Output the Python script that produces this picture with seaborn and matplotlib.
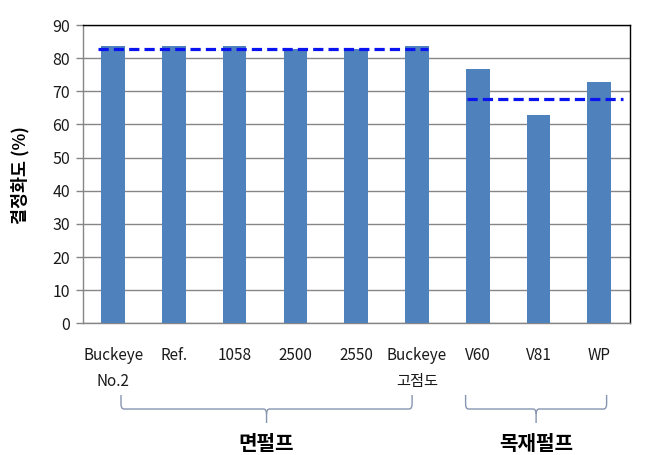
import matplotlib
matplotlib.use("Agg")
import matplotlib.pyplot as plt
import matplotlib.transforms as mtransforms
from matplotlib.path import Path
from matplotlib.patches import PathPatch
import seaborn as sns
import pandas as pd

# ---- data ----
categories = ["Buckeye No.2", "Ref.", "1058", "2500", "2550", "Buckeye 고점도", "V60", "V81", "WP"]
tick_labels = ["Buckeye\nNo.2", "Ref.", "1058", "2500", "2550", "Buckeye\n고점도", "V60", "V81", "WP"]
crystallinity = [83.6, 83.6, 83.7, 82.7, 82.7, 83.7, 76.7, 62.9, 72.9]
group_names = ["면펄프", "목재펄프"]
group_first = [0, 6]
group_last = [5, 8]
group_levels = [82.7, 67.7]
y_ticks = [0, 10, 20, 30, 40, 50, 60, 70, 80, 90]

sns.set_theme(style="white")
plt.rcParams["font.family"] = ["Noto Sans CJK KR", "DejaVu Sans"]

W, H = 647, 455
fig = plt.figure(figsize=(W / 100, H / 100), dpi=100)
ax = fig.add_axes([82.7 / W, 1 - 323.3 / H, (629.7 - 82.7) / W, (323.3 - 25) / H])

df = pd.DataFrame({"cat": categories, "val": crystallinity})
sns.barplot(data=df, x="cat", y="val", color="#4F81BD", saturation=1, width=0.39,
            linewidth=0, ax=ax, zorder=3)

# dashed group reference lines
line_ext = [(-0.25, 5.18), (5.82, 8.39)]
for lvl, (x0, x1) in zip(group_levels, line_ext):
    ax.plot([x0, x1], [lvl, lvl], color="#0A14F0", lw=2.3, dashes=(3.2, 1.6), zorder=5,
            solid_capstyle="butt", dash_capstyle="butt")

ax.set_xlim(-0.5, len(categories) - 0.5)
ax.set_ylim(0, 90)
ax.set_yticks(y_ticks)
ax.yaxis.grid(True, color="#868686", lw=1.0, zorder=0)
ax.set_axisbelow(True)

ax.set_xticks(range(len(categories)))
ax.set_xticklabels(tick_labels, fontsize=11)
for lab in ax.get_xticklabels():
    lab.set_linespacing(1.7)
ax.set_xticks([i + 0.5 for i in range(-1, len(categories))], minor=True)
ax.tick_params(axis="x", which="major", length=0, pad=17, colors="#1a1a1a")
ax.tick_params(axis="x", which="minor", length=5, width=1, color="#868686", direction="out")
ax.tick_params(axis="y", length=5, width=1, color="#868686", direction="out", pad=4,
               labelsize=11.5, labelcolor="#1a1a1a", left=True)

for s in ["left", "bottom"]:
    ax.spines[s].set_color("#868686")
    ax.spines[s].set_linewidth(1)
for s in ["top", "right"]:
    ax.spines[s].set_color("black")
    ax.spines[s].set_linewidth(1)
    ax.spines[s].set_visible(True)

ax.set_xlabel("")
ax.set_ylabel("")
fig.text(20 / W, 1 - 175 / H, "결정화도 (%)", rotation=90, ha="center", va="center",
         fontsize=12.5, fontweight="bold", color="black")

# braces below axis
blend = mtransforms.blended_transform_factory(ax.transData, fig.transFigure)
brace_ext = [(0.13, 4.92), (5.8, 8.12)]
def fy(p):
    return 1 - p / H
for name, (x0, x1) in zip(group_names, brace_ext):
    xm = (x0 + x1) / 2
    dx = 0.05
    verts = [
        (x0, fy(395)), (x0, fy(404)), (x0, fy(409)), (x0 + dx, fy(409)),
        (xm - dx, fy(409)), (xm, fy(409)), (xm, fy(414)), (xm, fy(423)),
    ]
    codes = [Path.MOVETO, Path.LINETO, Path.CURVE3, Path.CURVE3,
             Path.LINETO, Path.CURVE3, Path.CURVE3, Path.LINETO]
    verts2 = [
        (x1, fy(395)), (x1, fy(404)), (x1, fy(409)), (x1 - dx, fy(409)),
        (xm + dx, fy(409)), (xm, fy(409)), (xm, fy(414)),
    ]
    codes2 = [Path.MOVETO, Path.LINETO, Path.CURVE3, Path.CURVE3,
              Path.LINETO, Path.CURVE3, Path.CURVE3]
    for v, c in [(verts, codes), (verts2, codes2)]:
        fig.add_artist(PathPatch(Path(v, c), transform=blend, fill=False,
                                 edgecolor="#8595B0", lw=1.0, clip_on=False))
    fig.text(xm, fy(443), name, transform=blend, ha="center", va="center",
             fontsize=14.5, fontweight="bold", color="black")

fig.savefig("out.png", dpi=100, facecolor="white")
